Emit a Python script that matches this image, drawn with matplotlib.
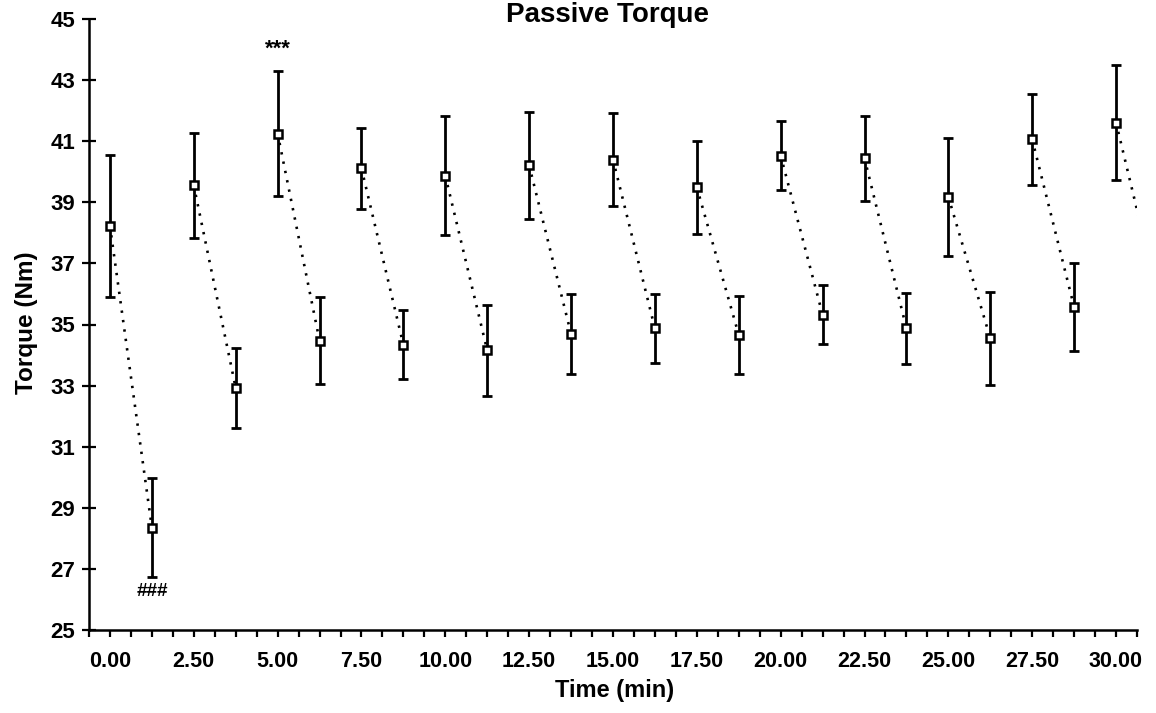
import matplotlib
matplotlib.use("Agg")
import matplotlib.pyplot as plt
from matplotlib.ticker import FixedLocator, MultipleLocator
import numpy as np

plt.rcParams['font.family'] = ['Liberation Sans', 'DejaVu Sans']
plt.rcParams['font.weight'] = 'bold'

# Passive torque at the start of each stretch (peak) and at its end (trough)
peak_time = [0.00, 2.50, 5.00, 7.50, 10.00, 12.50, 15.00, 17.50, 20.00, 22.50, 25.00, 27.50, 30.00]
peak_torque = [38.23, 39.55, 41.25, 40.11, 39.87, 40.21, 40.40, 39.49, 40.53, 40.44, 39.18, 41.06, 41.61]
peak_sd = [2.33, 1.73, 2.05, 1.33, 1.94, 1.75, 1.53, 1.53, 1.13, 1.40, 1.93, 1.50, 1.87]

trough_time = [1.25, 3.75, 6.25, 8.75, 11.25, 13.75, 16.25, 18.75, 21.25, 23.75, 26.25, 28.75, 31.25]
trough_torque = [28.35, 32.92, 34.47, 34.33, 34.15, 34.69, 34.87, 34.66, 35.32, 34.87, 34.55, 35.57, 35.90]
trough_sd = [1.61, 1.30, 1.42, 1.13, 1.48, 1.32, 1.14, 1.28, 0.96, 1.15, 1.53, 1.43, 1.40]

x_tick_values = [0.00, 2.50, 5.00, 7.50, 10.00, 12.50, 15.00, 17.50, 20.00, 22.50, 25.00, 27.50, 30.00]
x_tick_labels = ["0.00", "2.50", "5.00", "7.50", "10.00", "12.50", "15.00",
                 "17.50", "20.00", "22.50", "25.00", "27.50", "30.00"]
y_tick_values = [25, 27, 29, 31, 33, 35, 37, 39, 41, 43, 45]

# significance marks: (time, torque, text, size)
sig_marks = [(5.00, 44.0, "***", 16), (1.25, 26.25, "###", 13.5)]

W, H = 1156, 713
fig = plt.figure(figsize=(W / 100, H / 100), dpi=100)
ax = fig.add_axes([89 / W, 1 - 630 / H, (1137 - 89) / W, (630 - 19) / H])

# dotted segment from each peak down to its trough
seg_x, seg_y = [], []
for tp, yp, tt, yt in zip(peak_time, peak_torque, trough_time, trough_torque):
    seg_x += [tp, tt, np.nan]
    seg_y += [yp, yt, np.nan]
ax.plot(seg_x, seg_y, color='black', lw=1.9, linestyle=(0, (0.9, 2.7)), zorder=2)

all_t = peak_time + trough_time
all_y = peak_torque + trough_torque
all_sd = peak_sd + trough_sd
ax.errorbar(all_t, all_y, yerr=all_sd, fmt='none', ecolor='black',
            elinewidth=2.0, capsize=3.8, capthick=2.0, zorder=3)
ax.plot(all_t, all_y, linestyle='none', marker='s', markersize=5.6,
        markerfacecolor='white', markeredgecolor='black', markeredgewidth=1.8, zorder=4)

for t, y, s, fs in sig_marks:
    ax.text(t, y, s, ha='center', va='center', fontsize=fs, fontweight='bold')

ax.set_xlim(-0.625, 30.625)
ax.set_ylim(25, 45)

for side in ('top', 'right'):
    ax.spines[side].set_visible(False)
for side in ('left', 'bottom'):
    ax.spines[side].set_linewidth(1.8)

ax.xaxis.set_major_locator(FixedLocator(x_tick_values))
ax.set_xticklabels(x_tick_labels)
ax.xaxis.set_minor_locator(MultipleLocator(0.625))
ax.tick_params(axis='x', which='both', direction='out', length=5, width=1.6, pad=10)
ax.tick_params(axis='x', which='major', labelsize=15.5)

ax.set_yticks(y_tick_values)
ax.tick_params(axis='y', which='major', direction='inout', length=9.5, width=1.6,
               labelsize=16, pad=5)
for lab in ax.get_xticklabels() + ax.get_yticklabels():
    lab.set_fontweight('bold')

fig.text(608 / W, 1 - 2 / H, "Passive Torque", ha='center', va='top',
         fontsize=20, fontweight='bold')
fig.text(615 / W, 1 - 690 / H, "Time (min)", ha='center', va='center',
         fontsize=17, fontweight='bold')
fig.text(26 / W, 1 - 323 / H, "Torque (Nm)", ha='center', va='center',
         rotation=90, fontsize=17.5, fontweight='bold')

fig.savefig("out.png", dpi=100, facecolor='white')
